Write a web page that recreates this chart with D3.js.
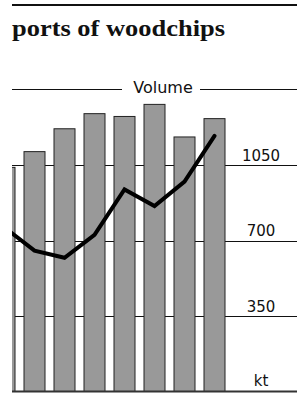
<!DOCTYPE html>
<html>
<head>
<meta charset="utf-8">
<script src="https://cdn.jsdelivr.net/npm/d3@7"></script>
<style>
  body { margin: 0; background: #fff; }
  svg { display: block; }
</style>
</head>
<body>
<div id="chart"></div>
<script>
// data
const periods = ['p0', 'p1', 'p2', 'p3', 'p4', 'p5', 'p6', 'p7'];
const volume = [1039, 1112, 1218, 1288, 1275, 1331, 1180, 1265];
const trend = [760, 653, 620, 726, 937, 860, 973, 1185];
const ticks = [350, 700, 1050];
const unitLabel = 'kt';

const width = 297;
const height = 398;
const plotLeft = 12;

const svg = d3.select('#chart')
  .append('svg')
  .attr('width', width)
  .attr('height', height);

const x = d3.scaleBand()
  .domain(periods)
  .range([-10.5, 229.5])
  .paddingInner(8 / 30)
  .paddingOuter(4 / 30);

const y = d3.scaleLinear()
  .domain([0, 1400])
  .range([391.5, 89.5]);

svg.append('clipPath')
  .attr('id', 'plot-clip')
  .append('rect')
  .attr('x', plotLeft)
  .attr('y', 0)
  .attr('width', width - plotLeft)
  .attr('height', height);

// top rule + title
svg.append('line')
  .attr('x1', plotLeft).attr('x2', width)
  .attr('y1', 5).attr('y2', 5)
  .attr('stroke', '#111').attr('stroke-width', 2);

svg.append('text')
  .attr('x', plotLeft)
  .attr('y', 36)
  .attr('font-family', '"Liberation Serif", "DejaVu Serif", serif')
  .attr('font-weight', 'bold')
  .attr('font-size', 23)
  .attr('textLength', 213)
  .attr('lengthAdjust', 'spacingAndGlyphs')
  .attr('fill', '#111')
  .text('ports of woodchips');

// "Volume" heading with rules either side
svg.append('line')
  .attr('x1', plotLeft).attr('x2', 122)
  .attr('y1', y(1400)).attr('y2', y(1400))
  .attr('stroke', '#111').attr('stroke-width', 1);
svg.append('line')
  .attr('x1', 200).attr('x2', width)
  .attr('y1', y(1400)).attr('y2', y(1400))
  .attr('stroke', '#111').attr('stroke-width', 1);
svg.append('text')
  .attr('x', 163)
  .attr('y', 93)
  .attr('text-anchor', 'middle')
  .attr('font-family', '"DejaVu Sans", sans-serif')
  .attr('font-size', 16)
  .attr('fill', '#111')
  .text('Volume');

// gridlines
svg.append('g')
  .selectAll('line')
  .data(ticks)
  .join('line')
  .attr('x1', plotLeft).attr('x2', width)
  .attr('y1', d => Math.round(y(d)) + 0.5)
  .attr('y2', d => Math.round(y(d)) + 0.5)
  .attr('stroke', '#111')
  .attr('stroke-width', 1);

svg.append('g')
  .selectAll('text')
  .data(ticks)
  .join('text')
  .attr('x', 261)
  .attr('y', d => y(d) - 4.5)
  .attr('text-anchor', 'middle')
  .attr('font-family', '"DejaVu Sans", sans-serif')
  .attr('font-size', 15)
  .attr('fill', '#111')
  .text(d => d);

svg.append('text')
  .attr('x', 261)
  .attr('y', y(0) - 6)
  .attr('text-anchor', 'middle')
  .attr('font-family', '"DejaVu Sans", sans-serif')
  .attr('font-size', 15)
  .attr('fill', '#111')
  .text(unitLabel);

const plot = svg.append('g').attr('clip-path', 'url(#plot-clip)');

// bars
plot.selectAll('rect.bar')
  .data(volume)
  .join('rect')
  .attr('class', 'bar')
  .attr('x', (d, i) => x(periods[i]) + 0.5)
  .attr('y', d => y(d))
  .attr('width', x.bandwidth() - 1)
  .attr('height', d => y(0) - y(d))
  .attr('fill', '#999')
  .attr('stroke', '#222')
  .attr('stroke-width', 1);

// baseline
svg.append('line')
  .attr('x1', plotLeft).attr('x2', width)
  .attr('y1', y(0)).attr('y2', y(0))
  .attr('stroke', '#333').attr('stroke-width', 2);

// trend line
const line = d3.line()
  .x((d, i) => x(periods[i]) + x.bandwidth() / 2)
  .y(d => y(d));

plot.append('path')
  .datum(trend)
  .attr('d', line)
  .attr('fill', 'none')
  .attr('stroke', '#000')
  .attr('stroke-width', 4)
  .attr('stroke-linejoin', 'miter')
  .attr('stroke-linecap', 'round');
</script>
</body>
</html>
